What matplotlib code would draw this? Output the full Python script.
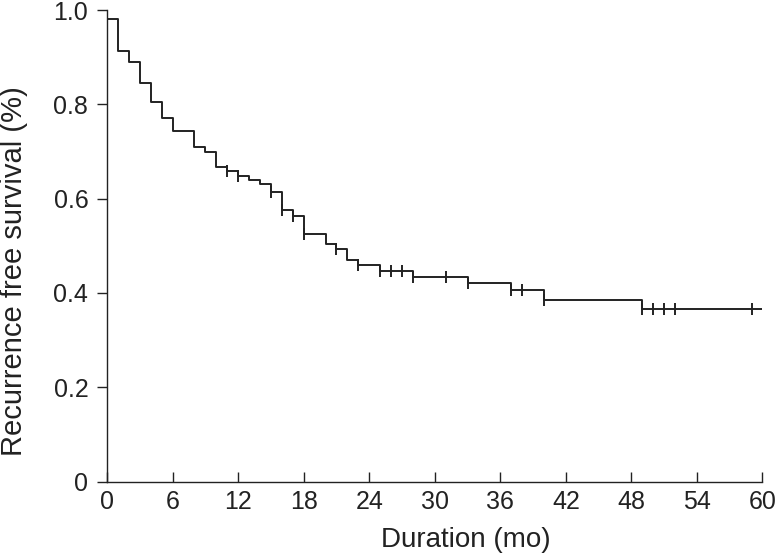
import numpy as np
import matplotlib
matplotlib.use("Agg")
import matplotlib.pyplot as plt

plt.rcParams['font.family'] = ['Liberation Sans', 'DejaVu Sans']

# Kaplan-Meier steps (month, survival after the drop)
event_months = [0, 1, 2, 3, 4, 5, 6, 8, 9, 10, 11, 12, 13, 14, 15, 16, 17, 18,
                20, 21, 22, 23, 25, 28, 33, 37, 40, 49]
survival = [0.981, 0.914, 0.890, 0.846, 0.805, 0.770, 0.743, 0.710, 0.698, 0.668,
            0.659, 0.648, 0.639, 0.631, 0.614, 0.575, 0.563, 0.524, 0.503, 0.493,
            0.469, 0.459, 0.447, 0.433, 0.421, 0.406, 0.386, 0.365]
censored_months = [11, 12, 15, 16, 17, 18, 21, 23, 25, 26, 27, 28, 31, 33, 37, 38,
                   40, 49, 50, 51, 52, 59]
end_month = 60

x_ticks = list(range(0, 61, 6))
y_ticks = [0, 0.2, 0.4, 0.6, 0.8, 1.0]
y_ticklabels = ["0", "0.2", "0.4", "0.6", "0.8", "1.0"]

col = "#222222"

fig = plt.figure(figsize=(7.79, 5.57), dpi=100)
ax = fig.add_axes([0.1374, 0.1355, 0.8414, 0.8465])

xs = event_months + [end_month]
ys = survival + [survival[-1]]
ax.step(xs, ys, where="post", color=col, lw=1.4)

# censor marks sit on the curve at their month
idx = np.searchsorted(event_months, censored_months, side="right") - 1
cens_y = np.array(survival)[idx]
ax.plot(censored_months, cens_y, ls="none", marker="|", ms=8.5, mew=1.4, color=col)

ax.set_xlim(0, 60)
ax.set_ylim(0, 1.0)
ax.set_xticks(x_ticks)
ax.set_yticks(y_ticks)
ax.set_yticklabels(y_ticklabels)

for s in ["top", "right"]:
    ax.spines[s].set_visible(False)
for s in ["left", "bottom"]:
    ax.spines[s].set_color(col)
    ax.spines[s].set_linewidth(1.0)

ax.tick_params(axis="x", direction="in", length=7.5, width=1.0, color=col,
               labelsize=18, pad=6, labelcolor=col)
ax.tick_params(axis="y", direction="out", length=7.5, width=1.0, color=col,
               labelsize=18, pad=6, labelcolor=col)

ax.set_xlabel("Duration (mo)", fontsize=20, color=col)
ax.set_ylabel("Recurrence free survival (%)", fontsize=21, color=col)
ax.xaxis.set_label_coords(0.547, -0.096)
ax.yaxis.set_label_coords(-0.12, 0.446)

fig.savefig("out.png", dpi=100)
